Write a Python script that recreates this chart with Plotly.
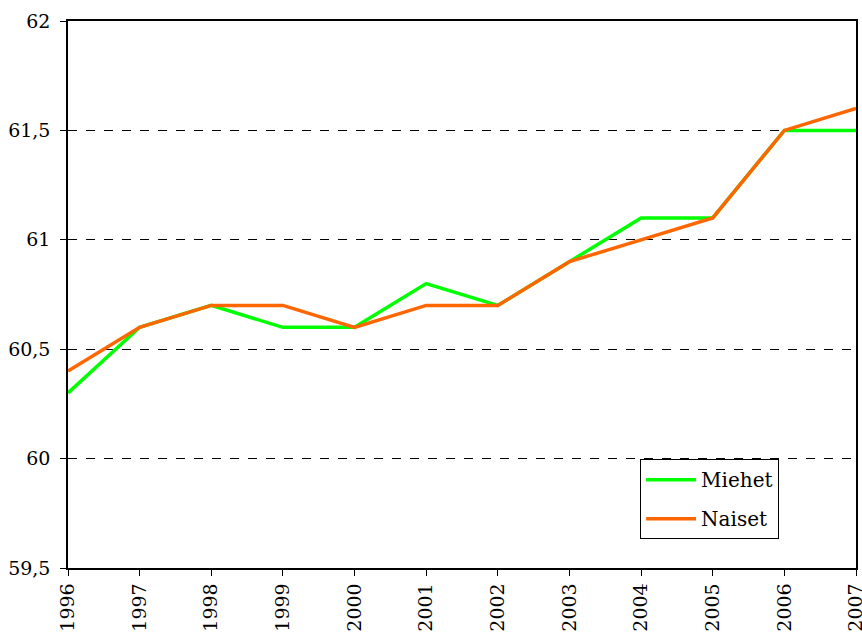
import plotly.graph_objects as go

years = [1996, 1997, 1998, 1999, 2000, 2001, 2002, 2003, 2004, 2005, 2006, 2007]
miehet = [60.3, 60.6, 60.7, 60.6, 60.6, 60.8, 60.7, 60.9, 61.1, 61.1, 61.5, 61.5]
naiset = [60.4, 60.6, 60.7, 60.7, 60.6, 60.7, 60.7, 60.9, 61.0, 61.1, 61.5, 61.6]
y_ticks = [59.5, 60, 60.5, 61, 61.5, 62]

fig = go.Figure()
fig.add_trace(go.Scatter(x=years, y=miehet, name="Miehet", mode="lines",
                         legendgroup="m",
                         line=dict(color="#00FF00", width=3.5)))
fig.add_trace(go.Scatter(x=years, y=naiset, name="Naiset", mode="lines",
                         legendgroup="n",
                         line=dict(color="#FF6600", width=3.5)))

font = dict(family="DejaVu Serif", size=19, color="black")
lfont = dict(family="DejaVu Serif", size=20, color="black")

fig.update_layout(
    width=862, height=632,
    margin=dict(l=68, r=6, t=21, b=64),
    paper_bgcolor="white", plot_bgcolor="white",
    font=font,
    separators=", ",
    showlegend=True,
    legend=dict(x=0.726, y=0.199, xanchor="left", yanchor="top",
                bgcolor="white", bordercolor="black", borderwidth=1,
                font=lfont, tracegroupgap=10, itemwidth=50),
    xaxis=dict(range=[1996, 2007], tickmode="array", tickvals=years,
               ticktext=[str(y) for y in years], tickangle=-90,
               tickfont=font, automargin=False, ticklabeloverflow="allow",
               showline=True, linecolor="black", linewidth=1.5, mirror=True,
               ticks="outside", ticklen=6, tickcolor="black",
               showgrid=False, zeroline=False),
    yaxis=dict(range=[59.5, 62], tickmode="array", tickvals=y_ticks,
               tickfont=font, automargin=False, ticklabeloverflow="allow",
               ticklabelstandoff=6,
               showline=True, linecolor="black", linewidth=1.5, mirror=True,
               ticks="outside", ticklen=6, tickcolor="black",
               showgrid=True, gridcolor="black", gridwidth=1, griddash="dash",
               zeroline=False),
)

fig.write_html("out.html", config={"displayModeBar": False},
               post_script="document.body.style.margin='0';document.body.style.overflow='hidden';")
